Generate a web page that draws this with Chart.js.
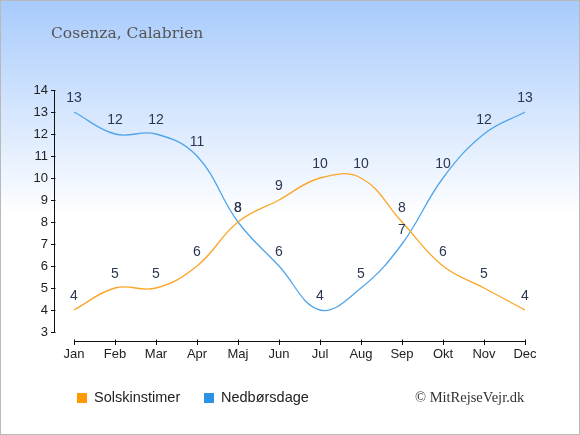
<!DOCTYPE html>
<html>
<head>
<meta charset="utf-8">
<script src="https://cdn.jsdelivr.net/npm/chart.js@4/dist/chart.umd.min.js"></script>
<style>
  html, body { margin: 0; padding: 0; background: #fff; }
  #wrap { width: 580px; height: 435px; box-sizing: border-box; border: 1px solid #b9b9b9; }
  canvas { display: block; }
</style>
</head>
<body>
<div id="wrap"><canvas id="lineChart" width="578" height="433"></canvas></div>
<script>
var months = ['Jan', 'Feb', 'Mar', 'Apr', 'Maj', 'Jun', 'Jul', 'Aug', 'Sep', 'Okt', 'Nov', 'Dec']
var sunHours = [4, 5, 5, 6, 8, 9, 10, 10, 8, 6, 5, 4]
var rainDays = [13, 12, 12, 11, 8, 6, 4, 5, 7, 10, 12, 13]
var yTicks = [3, 4, 5, 6, 7, 8, 9, 10, 11, 12, 13, 14]
var titleText = 'Cosenza, Calabrien'
var creditText = '© MitRejseVejr.dk'

// background, axis lines, value labels, legend and credit
var extras = {
  id: 'extras',
  beforeDraw: function (chart) {
    var ctx = chart.ctx
    var g = ctx.createLinearGradient(0, 0, 0, 215)
    g.addColorStop(0, 'rgb(168,203,252)')
    g.addColorStop(1, 'rgb(255,255,255)')
    ctx.save()
    ctx.fillStyle = g
    ctx.fillRect(0, 0, chart.width, chart.height)
    ctx.restore()
  },
  afterDraw: function (chart) {
    var ctx = chart.ctx
    var x = chart.scales.x
    var y = chart.scales.y
    ctx.save()

    // y axis
    var ax = chart.chartArea.left - 19.5
    ctx.strokeStyle = '#111'
    ctx.lineWidth = 1
    ctx.beginPath()
    ctx.moveTo(ax, y.getPixelForValue(14))
    ctx.lineTo(ax, y.getPixelForValue(3))
    yTicks.forEach(function (v) {
      var py = Math.round(y.getPixelForValue(v)) + 0.5
      ctx.moveTo(ax - 3.5, py)
      ctx.lineTo(ax + 1, py)
    })
    ctx.stroke()

    // x axis
    var ay = chart.chartArea.bottom + 9.5
    ctx.beginPath()
    ctx.moveTo(x.getPixelForValue(0), ay)
    ctx.lineTo(x.getPixelForValue(months.length - 1), ay)
    months.forEach(function (m, i) {
      var px = Math.round(x.getPixelForValue(i)) + 0.5
      ctx.moveTo(px, ay - 2)
      ctx.lineTo(px, ay + 3.5)
    })
    ctx.stroke()

    // value labels
    ctx.font = '14px "Liberation Sans", Arial, sans-serif'
    ctx.fillStyle = '#2b3652'
    ctx.textAlign = 'center'
    ctx.textBaseline = 'middle'
    chart.data.datasets.forEach(function (ds, di) {
      chart.getDatasetMeta(di).data.forEach(function (pt, i) {
        ctx.fillText(String(ds.data[i]), pt.x, pt.y - 14)
      })
    })

    // title
    ctx.font = '15.5px "DejaVu Serif", serif'
    ctx.fillStyle = '#555'
    ctx.textAlign = 'left'
    ctx.textBaseline = 'alphabetic'
    ctx.fillText(titleText, 50, 37)

    // legend
    var lx = [76, 203]
    ctx.font = '14.5px "Liberation Sans", Arial, sans-serif'
    chart.data.datasets.forEach(function (ds, di) {
      ctx.fillStyle = ds.legendColor
      ctx.fillRect(lx[di], 392, 10, 10)
      ctx.fillStyle = '#222'
      ctx.textBaseline = 'middle'
      ctx.fillText(ds.label, lx[di] + 17, 397)
    })

    // credit
    ctx.font = '14.5px "Liberation Serif", serif'
    ctx.fillStyle = '#333'
    ctx.textBaseline = 'alphabetic'
    ctx.fillText(creditText, 414, 401)
    ctx.restore()
  }
}

var CHART = document.getElementById('lineChart')

let lineChart = new Chart(CHART, {
  type: 'line',
  data: {
    labels: months,
    datasets: [
      {
        label: 'Solskinstimer',
        data: sunHours,
        borderColor: 'rgb(252,165,40)',
        legendColor: 'rgb(255,153,0)',
        borderWidth: 1.3,
        pointRadius: 0,
        tension: 0.4,
        fill: false
      },
      {
        label: 'Nedbørsdage',
        data: rainDays,
        borderColor: 'rgb(80,165,235)',
        legendColor: 'rgb(45,145,228)',
        borderWidth: 1.3,
        pointRadius: 0,
        tension: 0.4,
        fill: false
      }
    ]
  },
  options: {
    responsive: false,
    animation: false,
    devicePixelRatio: 1,
    layout: { padding: { left: 0, top: 89, right: 54, bottom: 0 } },
    plugins: {
      legend: { display: false },
      tooltip: { enabled: false }
    },
    scales: {
      x: {
        offset: false,
        grid: { display: false, drawTicks: false },
        border: { display: false },
        ticks: {
          padding: 15,
          color: '#222',
          font: { family: '"Liberation Sans", Arial, sans-serif', size: 13 }
        },
        afterFit: function (s) { s.height = 102 }
      },
      y: {
        min: 3,
        max: 14,
        grid: { display: false, drawTicks: false },
        border: { display: false },
        afterBuildTicks: function (s) { s.ticks = yTicks.map(function (v) { return { value: v } }) },
        ticks: {
          padding: 26,
          color: '#222',
          font: { family: '"Liberation Sans", Arial, sans-serif', size: 13 }
        },
        afterFit: function (s) { s.width = 73 }
      }
    }
  },
  plugins: [extras]
})
</script>
</body>
</html>
